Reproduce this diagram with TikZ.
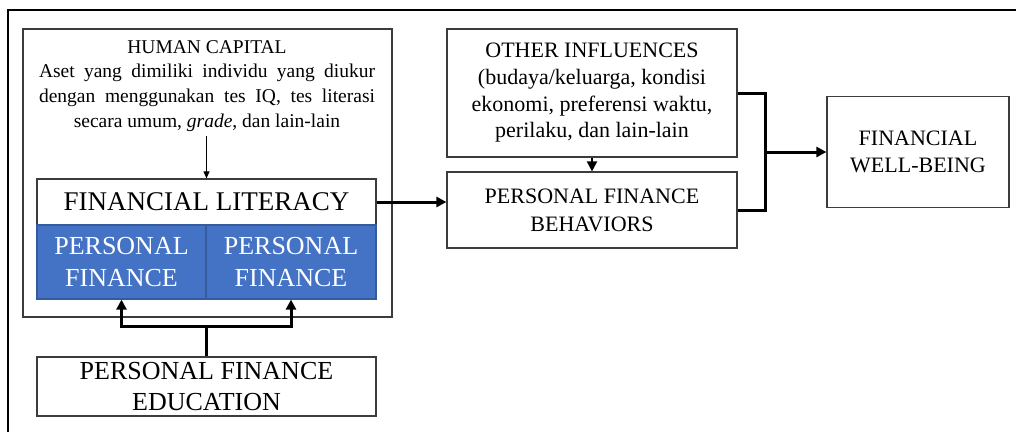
\documentclass[tikz,border=0pt]{standalone}
\usepackage{fontspec}
\setmainfont{Liberation Serif}
\definecolor{pfblue}{RGB}{68, 114, 196}
\definecolor{boxline}{RGB}{60, 60, 60}
\usetikzlibrary{arrows.meta, positioning}
\tikzset{
    box/.style={draw=boxline, line width=1.2pt, inner sep=0pt, align=center},
    pfbox/.style={box, fill=pfblue, draw=pfblue!80!black, text=white,
        font=\fontsize{26}{32}\selectfont},
    link/.style={line width=3pt},
    linkarrow/.style={link, -{Triangle[length=10pt, width=10pt]}},
    thinarrow/.style={line width=0.9pt, -{Triangle[length=7pt, width=6pt]}},
}

\begin{document}
\begin{tikzpicture}[x=1pt, y=-1pt]
    \useasboundingbox (0, 0) rectangle (1016, 432);
    \draw[line width=1.5pt] (1016, 10) -- (8, 10) -- (8, 432);

    \node[box, minimum width=369, minimum height=288] (hc) at (207.5, 173) {};
    \node[align=center, anchor=north, inner sep=0pt,
        font=\fontsize{19.5}{24.7}\selectfont] (hctext) at (207, 40)
        {HUMAN CAPITAL\\
        \makebox[336pt][s]{Aset yang dimiliki individu yang diukur}\\
        \makebox[336pt][s]{dengan menggunakan tes IQ, tes literasi}\\
        secara umum, \textit{grade}, dan lain-lain};
    \node[box, minimum width=339, minimum height=46,
        font=\fontsize{27}{32}\selectfont] (fl) at (206.5, 202)
        {FINANCIAL LITERACY};
    \node[pfbox, minimum width=169, minimum height=74] (pf1) at (121.5, 262)
        {PERSONAL\\FINANCE};
    \node[pfbox, minimum width=170, minimum height=74] (pf2) at (291, 262)
        {PERSONAL\\FINANCE};
    \node[box, minimum width=339, minimum height=59,
        font=\fontsize{26}{31.5}\selectfont] (edu) at (206.5, 386.5)
        {PERSONAL FINANCE\\EDUCATION};
    \node[box, minimum width=290, minimum height=128,
        font=\fontsize{22}{26.7}\selectfont] (oi) at (592, 93)
        {OTHER INFLUENCES\\(budaya/keluarga, kondisi\\
        ekonomi, preferensi waktu,\\perilaku, dan lain-lain};
    \node[box, minimum width=290, minimum height=76,
        font=\fontsize{22}{28}\selectfont] (pfb) at (592, 210)
        {PERSONAL FINANCE\\BEHAVIORS};
    \node[box, minimum width=182, minimum height=111,
        font=\fontsize{22}{27}\selectfont] (fwb) at (918, 152)
        {FINANCIAL\\WELL-BEING};

    \coordinate (split) at (206.5, 326);
    \coordinate (join) at (765, 152);

    \draw[thinarrow] ([yshift=-4pt]hctext.south -| fl.north) -- (fl.north);
    \draw[link] (edu.north) -- (split);
    \draw[linkarrow] (split) -| (pf1.south);
    \draw[linkarrow] (split) -| (pf2.south);
    \draw[linkarrow] (fl.east) -- (fl.east -| pfb.west);
    \draw[linkarrow, line width=2pt] (oi.south) -- (pfb.north);
    \draw[link] (oi.east) -| (join) |- (pfb.east);
    \draw[linkarrow] (join) -- (fwb.west);
\end{tikzpicture}
\end{document}
